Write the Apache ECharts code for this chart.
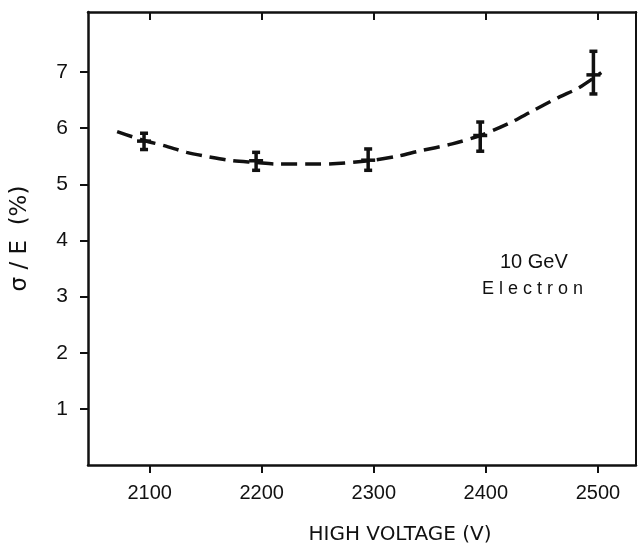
<!DOCTYPE html>
<html>
<head>
<meta charset="utf-8">
<script src="https://cdn.jsdelivr.net/npm/echarts@6/dist/echarts.min.js"></script>
<style>
  html, body { margin: 0; padding: 0; background: #fff; }
  #chart { width: 638px; height: 548px; }
</style>
</head>
<body>
<div id="chart"></div>
<script>
// measured points with error bars
var ptX = [2095, 2195, 2295, 2395, 2496];
var ptY = [5.77, 5.42, 5.43, 5.87, 6.95];
var errLo = [5.62, 5.25, 5.25, 5.59, 6.61];
var errHi = [5.91, 5.57, 5.63, 6.11, 7.37];

// dashed fit curve
var curveX = [2071, 2095, 2113, 2133, 2153, 2174, 2194, 2215, 2251, 2296, 2321, 2340, 2370, 2395, 2420, 2441, 2465, 2483, 2503];
var curveY = [5.94, 5.78, 5.69, 5.57, 5.49, 5.42, 5.39, 5.36, 5.36, 5.42, 5.50, 5.59, 5.72, 5.87, 6.08, 6.30, 6.55, 6.72, 6.99];

// tick labels
var xTicks = [2100, 2200, 2300, 2400, 2500];
var yTicks = [1, 2, 3, 4, 5, 6, 7];

var FONT = "'Liberation Sans', sans-serif";

var chart = echarts.init(document.getElementById('chart'), null, { renderer: 'canvas' });

var curveData = [];
for (var i = 0; i < curveX.length; i++) {
    curveData.push([curveX[i], curveY[i]]);
}
var errData = [];
for (var j = 0; j < ptX.length; j++) {
    errData.push([ptX[j], ptY[j], errLo[j], errHi[j]]);
}

var option = {
    backgroundColor: '#fff',
    animation: false,
    grid: { left: 88, right: 2, top: 12, bottom: 83, containLabel: false, outerBoundsMode: 'none' },
    xAxis: [
        {
            type: 'value',
            min: 2045,
            max: 2534,
            position: 'bottom',
            splitLine: { show: false },
            axisLine: { show: true, onZero: false, lineStyle: { color: '#111', width: 2.5 } },
            axisTick: { show: true, length: 8, customValues: xTicks, lineStyle: { color: '#111', width: 2 } },
            axisLabel: {
                customValues: xTicks, margin: 18, color: '#111', fontSize: 20, fontFamily: FONT,
                formatter: function (v) { return String(v); }
            },
            name: 'HIGH VOLTAGE (V)',
            nameLocation: 'middle',
            nameGap: 60,
            nameTextStyle: { color: '#111', fontSize: 20, fontFamily: 'DejaVu Sans', padding: [0, 0, 0, 76] }
        },
        {
            type: 'value',
            min: 2045,
            max: 2534,
            position: 'top',
            splitLine: { show: false },
            axisLine: { show: true, onZero: false, lineStyle: { color: '#111', width: 2.5 } },
            axisTick: { show: true, inside: true, length: 8, customValues: xTicks, lineStyle: { color: '#111', width: 2 } },
            axisLabel: { show: false }
        }
    ],
    yAxis: [
        {
            type: 'value',
            min: 0,
            max: 8.07,
            position: 'left',
            splitLine: { show: false },
            axisLine: { show: true, onZero: false, lineStyle: { color: '#111', width: 2.5 } },
            axisTick: { show: true, length: 8, customValues: yTicks, lineStyle: { color: '#111', width: 2 } },
            axisLabel: { customValues: yTicks, margin: 20, color: '#111', fontSize: 21, fontFamily: FONT },
            name: 'σ / E  (%)',
            nameLocation: 'middle',
            nameGap: 56,
            nameRotate: 90,
            nameTextStyle: { color: '#111', fontSize: 23, fontFamily: 'DejaVu Sans' }
        },
        {
            type: 'value',
            min: 0,
            max: 8.07,
            position: 'right',
            splitLine: { show: false },
            axisLine: { show: true, onZero: false, lineStyle: { color: '#111', width: 2 } },
            axisTick: { show: false },
            axisLabel: { show: false }
        }
    ],
    series: [
        {
            name: 'fit',
            type: 'line',
            data: curveData,
            smooth: 0.3,
            showSymbol: false,
            lineStyle: { color: '#111', width: 3.5, type: [16, 8] },
            z: 2
        },
        {
            name: 'data',
            type: 'custom',
            data: errData,
            z: 3,
            renderItem: function (params, api) {
                var c = api.coord([api.value(0), api.value(1)]);
                var lo = api.coord([api.value(0), api.value(2)]);
                var hi = api.coord([api.value(0), api.value(3)]);
                var st = { stroke: '#111', lineWidth: 3.5 };
                var cap = 4;
                var bar = 7;
                return {
                    type: 'group',
                    children: [
                        { type: 'line', shape: { x1: hi[0], y1: hi[1], x2: lo[0], y2: lo[1] }, style: st },
                        { type: 'line', shape: { x1: hi[0] - cap, y1: hi[1], x2: hi[0] + cap, y2: hi[1] }, style: st },
                        { type: 'line', shape: { x1: lo[0] - cap, y1: lo[1], x2: lo[0] + cap, y2: lo[1] }, style: st },
                        { type: 'line', shape: { x1: c[0] - bar, y1: c[1], x2: c[0] + bar, y2: c[1] }, style: st }
                    ]
                };
            }
        }
    ],
    graphic: [
        {
            type: 'text',
            left: 500,
            top: 252,
            style: { text: '10 GeV', fill: '#111', fontSize: 20, fontFamily: FONT }
        },
        {
            type: 'text',
            left: 482,
            top: 280,
            style: { text: 'E l e c t r o n', fill: '#111', fontSize: 18, fontFamily: FONT }
        }
    ]
};

chart.setOption(option);
</script>
</body>
</html>
